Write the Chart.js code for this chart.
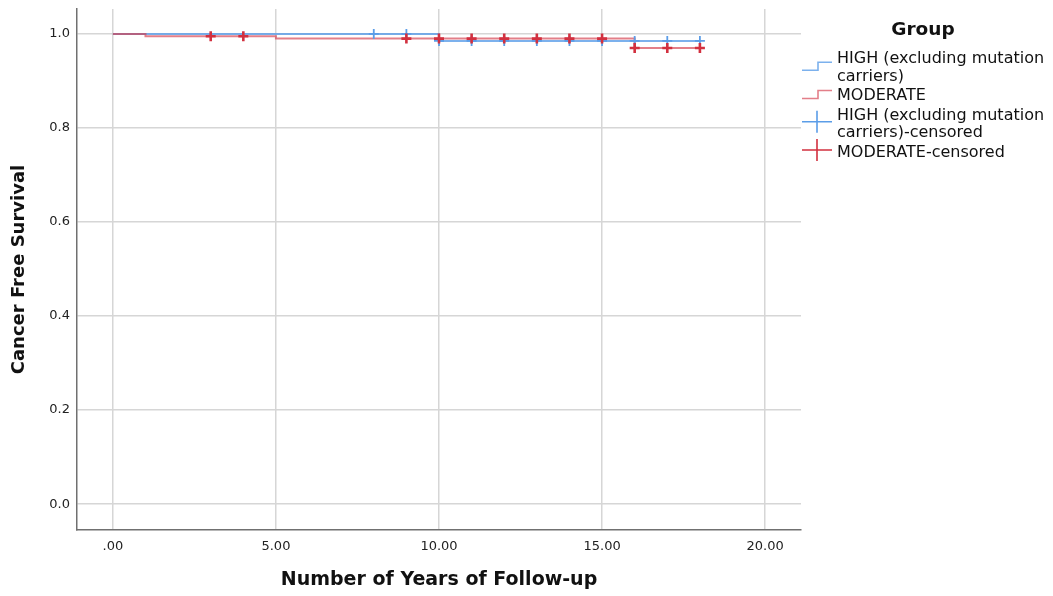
<!DOCTYPE html>
<html lang="en">
<head>
<meta charset="UTF-8">
<title>Cancer Free Survival</title>
<script src="https://cdn.jsdelivr.net/npm/chart.js"></script>
<style>
  html, body { margin: 0; padding: 0; background: #fff; }
</style>
</head>
<body>
<canvas id="kmChart" width="1053" height="596"></canvas>
<script>
// step curves: time of each step and survival after it
const highTimes = [0, 10, 18];
const highSurv  = [1.0, 0.985, 0.985];
const modTimes  = [0, 1, 5, 16, 18];
const modSurv   = [1.0, 0.995, 0.990, 0.970, 0.970];

// censored cases
const highCensTimes = [8, 9, 10, 11, 12, 13, 14, 15, 16, 17, 18];
const highCensSurv  = [1.0, 1.0, 0.985, 0.985, 0.985, 0.985, 0.985, 0.985, 0.985, 0.985, 0.985];
const modCensTimes  = [3, 4, 9, 10, 11, 12, 13, 14, 15, 16, 17, 18];
const modCensSurv   = [0.995, 0.995, 0.990, 0.990, 0.990, 0.990, 0.990, 0.990, 0.990, 0.970, 0.970, 0.970];

const groupLabels = [
    'HIGH (excluding mutation carriers)',
    'MODERATE',
    'HIGH (excluding mutation carriers)-censored',
    'MODERATE-censored'
];
const xTickValues = [0, 5, 10, 15, 20];
const xTickLabels = ['.00', '5.00', '10.00', '15.00', '20.00'];
const yTickValues = [0, 0.2, 0.4, 0.6, 0.8, 1.0];

const BLUE_LINE = 'rgba(91, 157, 232, 0.8)';
const RED_LINE = 'rgba(212, 59, 73, 0.65)';
const BLUE = '#5b9de8';
const RED = '#d2303f';
const FONT = "'DejaVu Sans', sans-serif";

const toPoints = (xs, ys) => xs.map((x, i) => ({ x: x, y: ys[i] }));

// legend on the right, drawn by hand so labels can wrap like the original
const groupLegend = {
    id: 'groupLegend',
    afterDraw(chart) {
        const ctx = chart.ctx;
        const sets = chart.data.datasets;
        const textX = 837, maxW = 214, lineH = 17.5;
        ctx.save();
        ctx.fillStyle = '#111';
        ctx.font = 'bold 18.5px ' + FONT;
        ctx.textAlign = 'center';
        ctx.textBaseline = 'alphabetic';
        ctx.fillText('Group', 923, 35);

        ctx.font = '16px ' + FONT;
        ctx.textAlign = 'left';
        let y = 63.3;
        sets.forEach((ds) => {
            // greedy word wrap
            const words = ds.label.split(' ');
            const lines = [];
            let cur = '';
            words.forEach((w) => {
                const test = cur ? cur + ' ' + w : w;
                if (cur && ctx.measureText(test).width > maxW) {
                    lines.push(cur);
                    cur = w;
                } else {
                    cur = test;
                }
            });
            lines.push(cur);

            ctx.fillStyle = '#111';
            lines.forEach((ln, i) => ctx.fillText(ln, textX, y + i * lineH));

            const mid = (y - 11.6 + y + (lines.length - 1) * lineH) / 2;
            ctx.strokeStyle = ds.borderColor;
            ctx.lineWidth = 1.6;
            ctx.beginPath();
            if (ds.showLine) {
                ctx.moveTo(802, mid + 4);
                ctx.lineTo(818, mid + 4);
                ctx.lineTo(818, mid - 4);
                ctx.lineTo(832, mid - 4);
            } else {
                ctx.moveTo(802, mid - 1);
                ctx.lineTo(832, mid - 1);
                ctx.moveTo(817, mid - 12);
                ctx.lineTo(817, mid + 10);
            }
            ctx.stroke();
            y += lines.length * lineH + 2;
        });
        ctx.restore();
    }
};

const ctx = document.getElementById('kmChart').getContext('2d');

new Chart(ctx, {
    type: 'scatter',
    data: {
        datasets: [
            {
                label: groupLabels[0],
                data: toPoints(highTimes, highSurv),
                showLine: true,
                stepped: 'before',
                borderColor: BLUE_LINE,
                borderWidth: 2,
                pointRadius: 0,
                order: 3
            },
            {
                label: groupLabels[1],
                data: toPoints(modTimes, modSurv),
                showLine: true,
                stepped: 'before',
                borderColor: RED_LINE,
                borderWidth: 2,
                pointRadius: 0,
                order: 2
            },
            {
                label: groupLabels[2],
                data: toPoints(highCensTimes, highCensSurv),
                showLine: false,
                borderColor: BLUE,
                pointStyle: 'cross',
                pointRadius: 5,
                pointBorderWidth: 1.8,
                order: 1
            },
            {
                label: groupLabels[3],
                data: toPoints(modCensTimes, modCensSurv),
                showLine: false,
                borderColor: RED,
                pointStyle: 'cross',
                pointRadius: 5,
                pointBorderWidth: 2.6,
                order: 0
            }
        ]
    },
    options: {
        responsive: false,
        animation: false,
        layout: { padding: { top: 9, right: 252, left: 0, bottom: 0 } },
        plugins: {
            legend: { display: false },
            tooltip: { enabled: false }
        },
        scales: {
            x: {
                type: 'linear',
                min: -1.1,
                max: 21.1,
                afterBuildTicks: (s) => { s.ticks = xTickValues.map(v => ({ value: v })); },
                afterFit: (s) => {
                    s.height = 66;
                    s.paddingLeft = 0;
                    s.paddingRight = 0;
                },
                grid: { color: '#d6d6d6', lineWidth: 1.5, drawTicks: false },
                border: { color: '#707070', width: 1.5 },
                ticks: {
                    padding: 9,
                    color: '#222',
                    font: { family: FONT, size: 13 },
                    maxRotation: 0,
                    autoSkip: false,
                    callback: (v, i) => xTickLabels[i]
                },
                title: {
                    display: true,
                    text: 'Number of Years of Follow-up',
                    color: '#111',
                    font: { family: FONT, size: 19, weight: 'bold' },
                    padding: { top: 0, bottom: 5 }
                }
            },
            y: {
                min: -0.055,
                max: 1.053,
                afterBuildTicks: (s) => { s.ticks = yTickValues.map(v => ({ value: v })); },
                afterFit: (s) => {
                    s.width = 77;
                    s.paddingTop = 0;
                    s.paddingBottom = 0;
                },
                grid: { color: '#d6d6d6', lineWidth: 1.5, drawTicks: false },
                border: { color: '#707070', width: 1.5 },
                ticks: {
                    padding: 7,
                    color: '#222',
                    font: { family: FONT, size: 13 },
                    callback: (v) => v.toFixed(1)
                },
                title: {
                    display: true,
                    text: 'Cancer Free Survival',
                    color: '#111',
                    font: { family: FONT, size: 18, weight: 'bold' },
                    padding: { top: 9, bottom: 0 }
                }
            }
        }
    },
    plugins: [groupLegend]
});
</script>
</body>
</html>
